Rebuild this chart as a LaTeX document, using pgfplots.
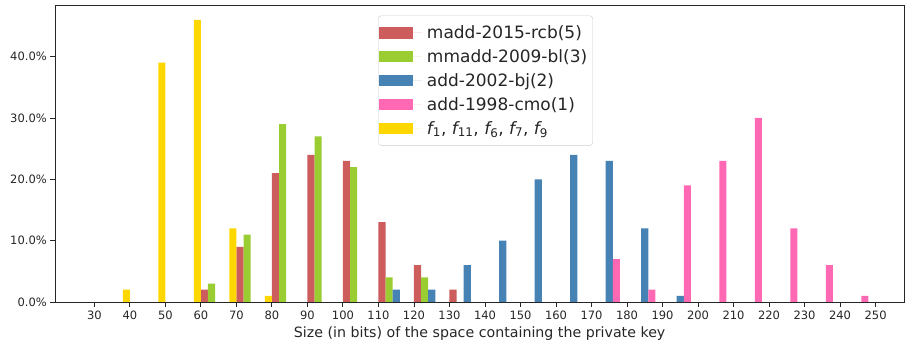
\documentclass[border=0pt]{standalone}
\usepackage{fontspec}
\setmainfont{DejaVu Sans}
\usepackage{pgfplots}
\pgfplotsset{compat=1.18}
\definecolor{cred}{HTML}{CD5C5C}
\definecolor{cgreen}{HTML}{9ACD32}
\definecolor{cblue}{HTML}{4682B4}
\definecolor{cpink}{HTML}{FF69B4}
\definecolor{cyellow}{HTML}{FFD700}
\definecolor{axc}{HTML}{262626}
\begin{document}
\begin{tikzpicture}
\useasboundingbox (0,0) rectangle (905pt,344pt);
\begin{axis}[
  at={(55.3pt,42pt)}, anchor=south west,
  scale only axis, width=848.7pt, height=296.3pt,
  xmin=19, xmax=258, ymin=0, ymax=48.3,
  ybar, bar width=2, bar shift=0pt,
  xtick={30,40,...,250},
  ytick={0,10,20,30,40},
  yticklabel={\pgfmathprintnumber[fixed,fixed zerofill,precision=1]{\tick}\%},
  /pgf/number format/assume math mode=true,
  tick label style={font=\fontsize{11.5}{13}\selectfont, text=axc},
  xtick pos=bottom, ytick pos=left, tick align=outside,
  major tick length=5pt,
  tick style={line width=0.9pt, axc},
  axis line style={line width=0.9pt, axc},
  xlabel={Size (in bits) of the space containing the private key},
  xlabel style={font=\fontsize{14.2}{16}\selectfont, text=axc, yshift=-1pt},
  legend cell align=left,
  legend image code/.code={\fill[#1, sharp corners] (0pt,-5.8pt) rectangle (34pt,5.8pt); \path (0pt,0pt) -- (43pt,0pt);},
  legend style={at={(0.507,0.966)}, anchor=north, draw=black!20, rounded corners=3pt,
    fill=white, text=axc, outer sep=0pt,
    font=\fontsize{17}{20}\selectfont, row sep=5.5pt, inner xsep=0.5pt, inner ysep=7.8pt,
    nodes={inner xsep=5pt}},
]
\addplot[fill=cred, draw=none, bar shift=0pt] coordinates {(61,2) (71,9) (81,21) (91,24) (101,23) (111,13) (121,6) (131,2)};
\addlegendentry{madd-2015-rcb(5)}
\addplot[fill=cgreen, draw=none, bar shift=0pt] coordinates {(63,3) (73,11) (83,29) (93,27) (103,22) (113,4) (123,4)};
\addlegendentry{mmadd-2009-bl(3)}
\addplot[fill=cblue, draw=none, bar shift=0pt] coordinates {(115,2) (125,2) (135,6) (145,10) (155,20) (165,24) (175,23) (185,12) (195,1)};
\addlegendentry{add-2002-bj(2)}
\addplot[fill=cpink, draw=none, bar shift=0pt] coordinates {(177,7) (187,2) (197,19) (207,23) (217,30) (227,12) (237,6) (247,1)};
\addlegendentry{add-1998-cmo(1)}
\addplot[fill=cyellow, draw=none, bar shift=0pt] coordinates {(39,2) (49,39) (59,46) (69,12) (79,1)};
\addlegendentry{{\itshape f}\textsubscript{1}, {\itshape f}\textsubscript{11}, {\itshape f}\textsubscript{6}, {\itshape f}\textsubscript{7}, {\itshape f}\textsubscript{9}}
\end{axis}
\end{tikzpicture}
\end{document}
